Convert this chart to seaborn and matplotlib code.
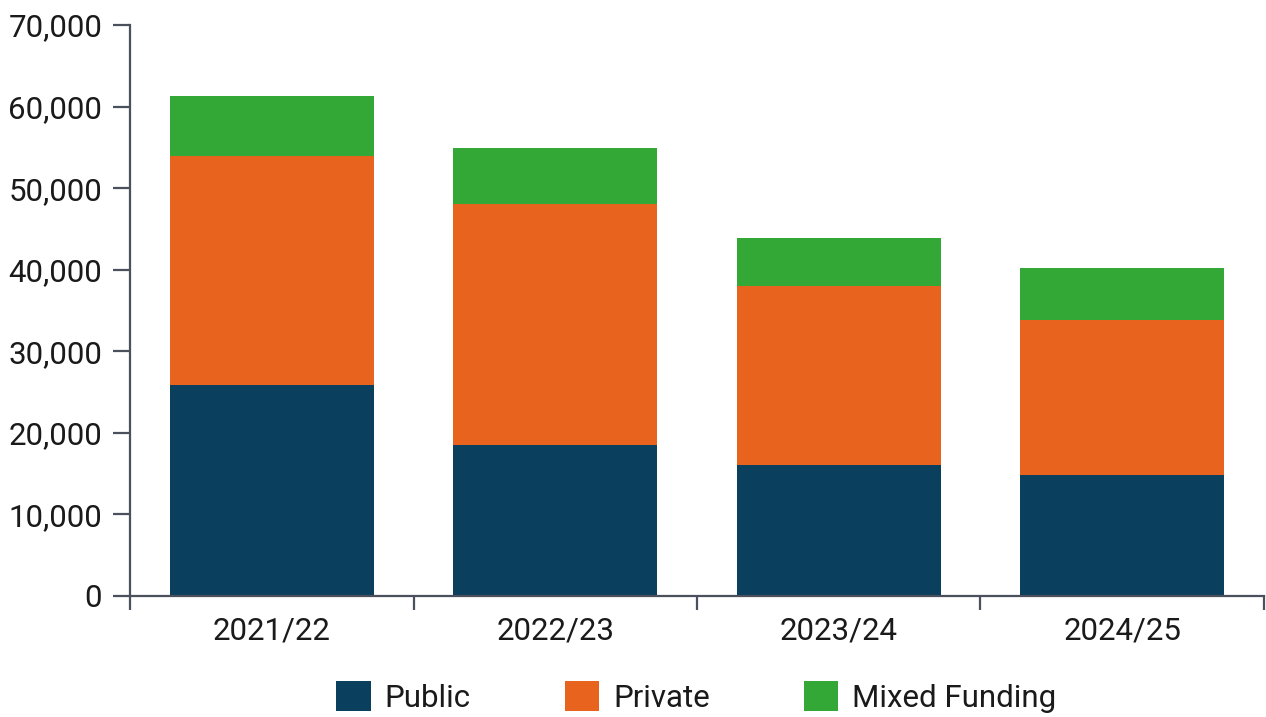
import matplotlib
matplotlib.use("Agg")
import matplotlib.pyplot as plt
from matplotlib.patches import Patch
from matplotlib.ticker import FuncFormatter, FixedLocator
import numpy as np
import pandas as pd
import seaborn as sns

# Funding breakdown per academic year
years = ["2021/22", "2022/23", "2023/24", "2024/25"]
public = [25840, 18480, 16030, 14800]
private = [28130, 29560, 21950, 19020]
mixed = [7320, 6870, 5890, 6370]

series_names = ["Public", "Private", "Mixed Funding"]
colors = {"Public": "#0B3F5E", "Private": "#E8631D", "Mixed Funding": "#34A836"}

sns.set_theme(style="white")
plt.rcParams["font.family"] = ["Roboto", "DejaVu Sans"]

fig = plt.figure(figsize=(12.66, 7.17), dpi=100)
ax = fig.add_axes([0.1027, 0.1688, 0.8957, 0.7962])

# stacked tops, drawn back to front so each layer shows its own segment
top_public = np.array(public, dtype=float)
top_private = top_public + np.array(private, dtype=float)
top_mixed = top_private + np.array(mixed, dtype=float)

layers = [("Mixed Funding", top_mixed), ("Private", top_private), ("Public", top_public)]
for name, vals in layers:
    df = pd.DataFrame({"year": years, "value": vals})
    sns.barplot(data=df, x="year", y="value", color=colors[name], width=0.72,
                saturation=1, ax=ax, errorbar=None, linewidth=0)

ax.set_xlim(-0.5, len(years) - 0.5)
ax.set_ylim(0, 70000)
ax.set_xlabel("")
ax.set_ylabel("")

axis_color = "#4a505c"
text_color = "#1a1a1a"
for side in ["top", "right"]:
    ax.spines[side].set_visible(False)
for side in ["left", "bottom"]:
    ax.spines[side].set_color(axis_color)
    ax.spines[side].set_linewidth(1.6)

ax.set_yticks(np.arange(0, 70001, 10000))
ax.yaxis.set_major_formatter(FuncFormatter(lambda v, p: f"{int(v):,}"))
ax.tick_params(axis="y", which="major", left=True, length=12, width=1.6,
               color=axis_color, pad=8, labelsize=22.5, labelcolor=text_color)

# category labels centred, tick marks on the boundaries between categories
ax.xaxis.set_minor_locator(FixedLocator(np.arange(-0.5, len(years), 1.0)))
ax.tick_params(axis="x", which="major", bottom=True, length=0, pad=15,
               labelsize=22.5, labelcolor=text_color)
ax.tick_params(axis="x", which="minor", bottom=True, length=10, width=1.6,
               color=axis_color)

handles = [Patch(facecolor=colors[n], edgecolor="none", label=n) for n in series_names]
leg = fig.legend(handles=handles, loc="center", bbox_to_anchor=(0.55, 0.028),
                 ncol=3, frameon=False, fontsize=22.5, handlelength=1.1,
                 handleheight=1.1, handletextpad=0.45, columnspacing=3.0,
                 borderaxespad=0)
for t in leg.get_texts():
    t.set_color(text_color)

fig.savefig("out.png", dpi=100)
